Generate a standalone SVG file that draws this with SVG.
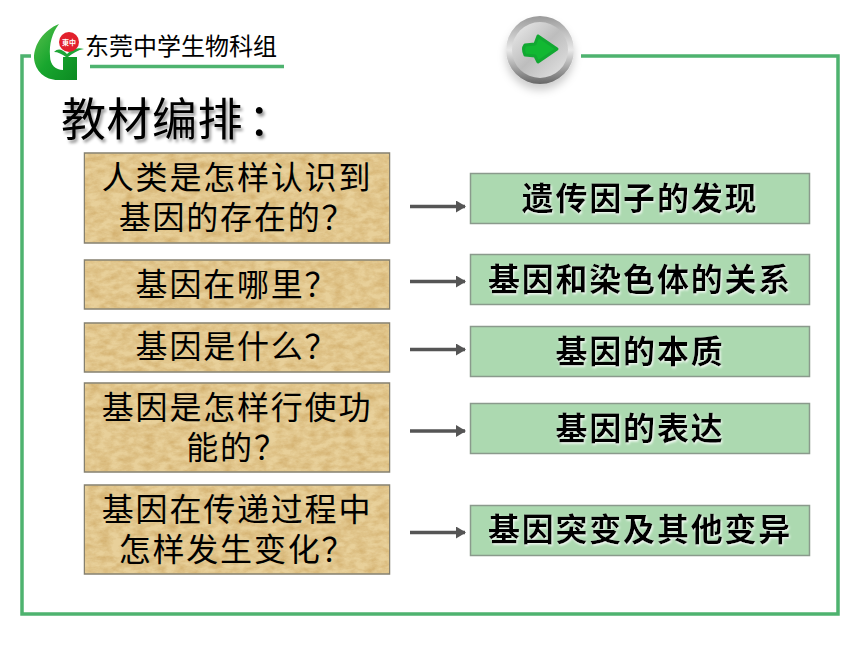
<svg xmlns="http://www.w3.org/2000/svg" width="860" height="645" viewBox="0 0 860 645">
<style>
text{font-family:"Noto Sans CJK SC","Noto Sans",sans-serif;fill:#000;text-anchor:middle}
.q{font-size:32px;letter-spacing:1.8px}
.a{font-size:32px;font-weight:700;letter-spacing:1.8px;filter:url(#soft)}
.frame{fill:none;stroke:#4eb36f;stroke-width:3.5}
.pbox{fill:#e8d09a;stroke:#85806f;stroke-width:1.5}
.tex{filter:url(#paper);stroke:none}
.gbox{fill:#acd9b0;stroke:#8a9a8c;stroke-width:1.5}
.arrow{stroke:#555;stroke-width:3.500;fill:none;marker-end:url(#ah)}
</style>
<defs>
<marker id="ah" markerUnits="userSpaceOnUse" markerWidth="10" markerHeight="12" refX="9" refY="6" orient="auto"><path d="M0,0 L10,6 L0,12 Z" fill="#555"/></marker>
<filter id="paper" x="0" y="0" width="100%" height="100%" color-interpolation-filters="sRGB">
<feTurbulence type="fractalNoise" baseFrequency="0.09 0.16" numOctaves="4" seed="4"/>
<feColorMatrix values="0 0 0 0 0.78  0 0 0 0 0.62  0 0 0 0 0.34  1.1 0 0 0 -0.35"/>
<feComposite in2="SourceGraphic" operator="in" result="n"/>
<feMerge><feMergeNode in="SourceGraphic"/><feMergeNode in="n"/></feMerge>
</filter>
<filter id="soft" x="-5%" y="-10%" width="110%" height="125%"><feDropShadow dx="1" dy="1.5" stdDeviation="0.8" flood-color="#fff" flood-opacity="0.9"/></filter>
<filter id="tshadow" x="-5%" y="-10%" width="115%" height="130%"><feDropShadow dx="2" dy="3" stdDeviation="1.5" flood-color="#000" flood-opacity="0.4"/></filter>
<filter id="bshadow" x="-20%" y="-20%" width="140%" height="150%"><feDropShadow dx="0" dy="6" stdDeviation="4" flood-color="#000" flood-opacity="0.2"/></filter>
<linearGradient id="gg" x1="0" y1="0" x2="1" y2="1"><stop offset="0" stop-color="#5cc04e"/><stop offset="0.5" stop-color="#18a62e"/><stop offset="1" stop-color="#0c8a22"/></linearGradient>
<linearGradient id="metal" x1="0" y1="0" x2="1" y2="1"><stop offset="0" stop-color="#ededed"/><stop offset="0.5" stop-color="#bdbdbd"/><stop offset="1" stop-color="#e6e6e6"/></linearGradient>
<linearGradient id="ring" x1="0" y1="0" x2="0" y2="1"><stop offset="0" stop-color="#9a9a9a"/><stop offset="0.5" stop-color="#e8e8e8"/><stop offset="1" stop-color="#666"/></linearGradient>
</defs>

<g id="frame">
<path class="frame" d="M31,56 H22 V614 H838 V56 H581"/>
<path class="frame" d="M90,66.500 H284" stroke-width="2.500"/>
</g>

<g id="logo">
<path d="M59,24 C44,30 34,44 34,58 C35,71 45,80 58,80 H77 V57 H63 V70 C56,70 50,65 50,56 C49,44 52,33 59,24 Z" fill="url(#gg)"/>
<path d="M54,52 C58,48 62,49 67,54 C72,49 77,47 84,49 C78,50 73,53 68,57 H66 C62,54 58,52 54,52 Z" fill="#1fa537"/>
<circle cx="69" cy="42" r="10" fill="#e2202c"/>
<text x="69" y="45" style="font-size:7px;fill:#fff;font-weight:700">東中</text>
<text x="181" y="55" style="font-size:24px">东莞中学生物科组</text>
</g>

<g id="next-button">
<circle cx="540" cy="50" r="34" fill="url(#ring)" filter="url(#bshadow)"/>
<circle cx="540" cy="50" r="28" fill="url(#metal)"/>
<path d="M538,36 L557,49 L538,62 L535,56 L525,55 Q522,49 525,45 L535,44 Z" fill="#12b832" stroke="#12a832" stroke-width="3" stroke-linejoin="round"/>
</g>

<g id="title"><text x="61" y="136" style="font-size:45px;letter-spacing:0.5px;text-anchor:start;filter:url(#tshadow)">教材编排<tspan dx="5">：</tspan></text></g>

<g id="connectors">
<path class="arrow" d="M410,206.500 H465"/>
<path class="arrow" d="M410,281.500 H465"/>
<path class="arrow" d="M410,349.500 H465"/>
<path class="arrow" d="M410,431 H465"/>
<path class="arrow" d="M410,532.500 H465"/>
</g>

<g id="q1"><rect class="pbox" x="84.500" y="153" width="305" height="90"/><rect class="pbox tex" x="85" y="154" width="304" height="88"/><text class="q"><tspan x="237" y="189">人类是怎样认识到</tspan><tspan x="237" y="229">基因的存在的？</tspan></text></g>
<g id="q2"><rect class="pbox" x="84.500" y="260" width="305" height="49"/><rect class="pbox tex" x="85" y="261" width="304" height="47"/><text class="q" x="237" y="296">基因在哪里？</text></g>
<g id="q3"><rect class="pbox" x="84.500" y="323" width="305" height="49"/><rect class="pbox tex" x="85" y="324" width="304" height="47"/><text class="q" x="237" y="358">基因是什么？</text></g>
<g id="q4"><rect class="pbox" x="84.500" y="383" width="305" height="89"/><rect class="pbox tex" x="85" y="384" width="304" height="87"/><text class="q"><tspan x="237" y="419">基因是怎样行使功</tspan><tspan x="237" y="459">能的？</tspan></text></g>
<g id="q5"><rect class="pbox" x="84.500" y="485" width="305" height="89"/><rect class="pbox tex" x="85" y="486" width="304" height="87"/><text class="q"><tspan x="237" y="521">基因在传递过程中</tspan><tspan x="237" y="561">怎样发生变化？</tspan></text></g>

<g id="a1"><rect class="gbox" x="470.500" y="173.500" width="339" height="50"/><text class="a" x="640" y="210">遗传因子的发现</text></g>
<g id="a2"><rect class="gbox" x="470.500" y="254.500" width="339" height="50"/><text class="a" x="640" y="291">基因和染色体的关系</text></g>
<g id="a3"><rect class="gbox" x="470.500" y="326.500" width="339" height="50"/><text class="a" x="640" y="363">基因的本质</text></g>
<g id="a4"><rect class="gbox" x="470.500" y="403.500" width="339" height="50"/><text class="a" x="640" y="440">基因的表达</text></g>
<g id="a5"><rect class="gbox" x="470.500" y="505.500" width="339" height="50"/><text class="a" x="640" y="541">基因突变及其他变异</text></g>
</svg>
